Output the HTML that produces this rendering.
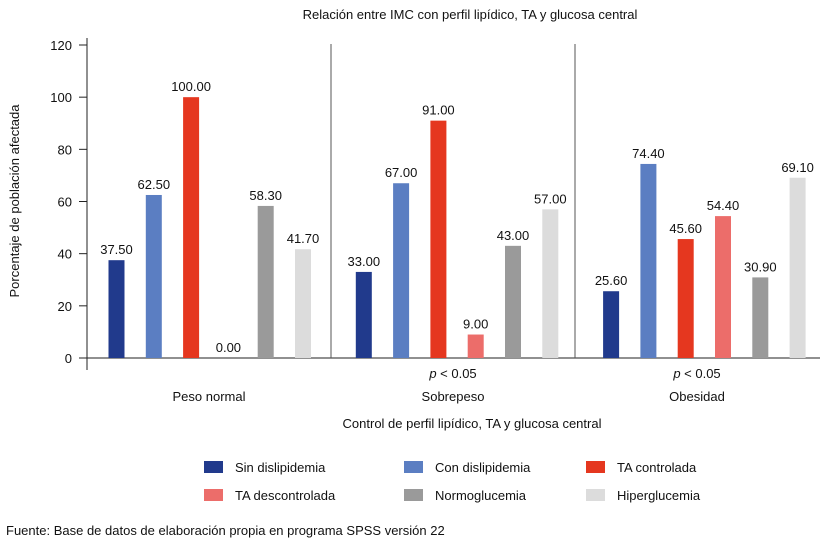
<!DOCTYPE html>
<html><head><meta charset="utf-8">
<style>
body{margin:0;background:#fff;}
svg{display:block;font-family:"Liberation Sans",Arial,sans-serif;}
</style></head>
<body>
<svg id="chart" width="827" height="547" viewBox="0 0 827 547" xmlns="http://www.w3.org/2000/svg">
<text x="470" y="19" font-size="13" text-anchor="middle" fill="#111">Relación entre IMC con perfil lipídico, TA y glucosa central</text>
<text transform="translate(19,201) rotate(-90)" font-size="13" text-anchor="middle" fill="#111">Porcentaje de población afectada</text>
<text x="472" y="428" font-size="13" text-anchor="middle" fill="#111">Control de perfil lipídico, TA y glucosa central</text>
<text x="6" y="535" font-size="13" fill="#111">Fuente: Base de datos de elaboración propia en programa SPSS versión 22</text>
<g id="plot"></g>
<g id="legend"></g>
</svg>
<script>
const categories = ["Peso normal","Sobrepeso","Obesidad"];
const notes = ["","p < 0.05","p < 0.05"];
const seriesNames = ["Sin dislipidemia","Con dislipidemia","TA controlada","TA descontrolada","Normoglucemia","Hiperglucemia"];
const sinDislipidemia = [37.5,33.0,25.6];
const conDislipidemia = [62.5,67.0,74.4];
const taControlada = [100.0,91.0,45.6];
const taDescontrolada = [0.0,9.0,54.4];
const normoglucemia = [58.3,43.0,30.9];
const hiperglucemia = [41.7,57.0,69.1];
const yTicks = [0,20,40,60,80,100,120];
const colors = ["#213a8c","#5b7ec2","#e5371f","#ec6d6a","#9a9a9a","#dcdcdc"];
const series=[sinDislipidemia,conDislipidemia,taControlada,taDescontrolada,normoglucemia,hiperglucemia];
const NS="http://www.w3.org/2000/svg";
const plot=document.getElementById('plot'), legend=document.getElementById('legend');
const x0=87, groupW=244, y0=358, pxPer=(358-45)/120;
const sepX=[331,575];
const y=v=>y0-v*pxPer;
function mk(tag,attrs,parent,txt){const e=document.createElementNS(NS,tag);for(const k in attrs)e.setAttribute(k,attrs[k]);if(txt!==undefined)e.textContent=txt;parent.appendChild(e);return e;}
let ax=mk('line',{x1:x0,y1:38,x2:x0,y2:370,stroke:'#222','stroke-width':1},plot);


let bx=mk('line',{x1:79,y1:y0,x2:820,y2:y0,stroke:'#222','stroke-width':1},plot);


yTicks.forEach(t=>{
  let l=mk('line',{x1:79,x2:x0,y1:y(t),y2:y(t),stroke:'#222'},plot);
  
  
  let tx=mk('text',{x:72,y:y(t)+5,'font-size':13,'text-anchor':'end',fill:'#111'},plot,String(t));
  
  
});
categories.forEach((c,gi)=>{
  const gx=x0+gi*groupW;
  if(gi>0){let s=mk('line',{x1:sepX[gi-1],x2:sepX[gi-1],y1:44,y2:y0,stroke:'#555'},plot);
    
    }
  let cl=mk('text',{x:gx+groupW/2,y:401,'font-size':13,'text-anchor':'middle',fill:'#111'},plot,c);
  
  
  if(notes[gi]){let n=mk('text',{x:gx+groupW/2,y:378,'font-size':13,'text-anchor':'middle',fill:'#111'},plot);
    
    
    const parts=notes[gi].split(' ');
    mk('tspan',{'font-style':'italic'},n,parts[0]);
    mk('tspan',{},n,' '+parts.slice(1).join(' '));}
  series.forEach((s,si)=>{
    const cx=116.5+gi*247.3+si*37.3, v=s[gi];
    let r=mk('rect',{x:cx-8,y:y(v),width:16,height:y0-y(v),fill:colors[si]},plot);
    
    
    let lb=mk('text',{x:cx,y:y(v)-6,'font-size':13,'text-anchor':'middle',fill:'#111'},plot,v.toFixed(2));
    
    
  });
});
const lx=[204,404,586], ly=[461,489];
seriesNames.forEach((n,i)=>{
  const X=lx[i%3], Y=ly[Math.floor(i/3)];
  let g=mk('g',{},legend);
  
  
  mk('rect',{x:X,y:Y,width:19,height:12,fill:colors[i]},g);
  mk('text',{x:X+31,y:Y+11,'font-size':13,fill:'#111'},g,n);
});
</script>
</body></html>
